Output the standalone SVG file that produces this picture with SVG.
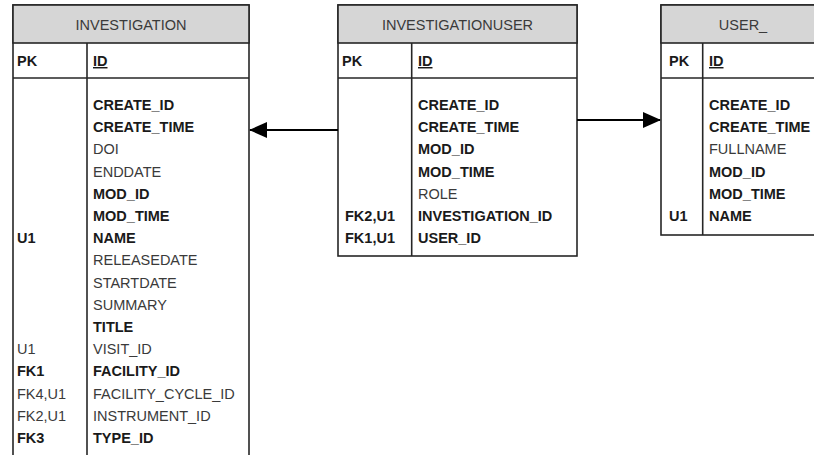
<svg xmlns="http://www.w3.org/2000/svg" width="814" height="455" viewBox="0 0 814 455">
<defs>
<marker id="arrow" viewBox="0 0 18 16" refX="17" refY="8" markerWidth="18" markerHeight="16" markerUnits="userSpaceOnUse" orient="auto">
<path d="M0,0 L18,8 L0,16 Z" fill="#000"/>
</marker>
<style>
.box{fill:#fff;stroke:#262626;stroke-width:1.6}
.hdr{fill:#d6d6d6;stroke:#262626;stroke-width:1.6}
.ln{stroke:#262626;stroke-width:1.6;fill:none}
text{font-family:"Liberation Sans",Arial,sans-serif;font-size:14.5px}
.r{fill:#3a3a3a}
.b{fill:#1a1a1a;font-weight:bold}
.h{fill:#3a3a3a;text-anchor:middle}
.u{text-decoration:underline}
.conn{stroke:#000;stroke-width:2;fill:none}
</style>
</defs>
<rect width="814" height="455" fill="#fff"/>

<g id="investigation">
<rect class="box" x="13" y="5" width="236" height="470"/>
<rect class="hdr" x="13" y="5" width="236" height="38"/>
<line class="ln" x1="13" y1="78" x2="249" y2="78"/>
<line class="ln" x1="87" y1="43" x2="87" y2="470"/>
<text class="h" x="131" y="29.5">INVESTIGATION</text>
<text class="b" x="17" y="66">PK</text>
<text class="b u" x="93" y="66">ID</text>
<text class="b" x="93" y="110">CREATE_ID</text>
<text class="b" x="93" y="132.2">CREATE_TIME</text>
<text class="r" x="93" y="154.4">DOI</text>
<text class="r" x="93" y="176.6">ENDDATE</text>
<text class="b" x="93" y="198.8">MOD_ID</text>
<text class="b" x="93" y="221">MOD_TIME</text>
<text class="b" x="93" y="243.2">NAME</text>
<text class="r" x="93" y="265.4">RELEASEDATE</text>
<text class="r" x="93" y="287.6">STARTDATE</text>
<text class="r" x="93" y="309.8">SUMMARY</text>
<text class="b" x="93" y="332">TITLE</text>
<text class="r" x="93" y="354.2">VISIT_ID</text>
<text class="b" x="93" y="376.4">FACILITY_ID</text>
<text class="r" x="93" y="398.6">FACILITY_CYCLE_ID</text>
<text class="r" x="93" y="420.8">INSTRUMENT_ID</text>
<text class="b" x="93" y="443">TYPE_ID</text>
<text class="b" x="17" y="243.2">U1</text>
<text class="r" x="17" y="354.2">U1</text>
<text class="b" x="17" y="376.4">FK1</text>
<text class="r" x="17" y="398.6">FK4,U1</text>
<text class="r" x="17" y="420.8">FK2,U1</text>
<text class="b" x="17" y="443">FK3</text>
</g>

<g id="investigationuser">
<rect class="box" x="338" y="5" width="239" height="251"/>
<rect class="hdr" x="338" y="5" width="239" height="38"/>
<line class="ln" x1="338" y1="78" x2="577" y2="78"/>
<line class="ln" x1="411.7" y1="43" x2="411.7" y2="256"/>
<text class="h" x="457.5" y="29.5">INVESTIGATIONUSER</text>
<text class="b" x="342" y="66">PK</text>
<text class="b u" x="418" y="66">ID</text>
<text class="b" x="418" y="110">CREATE_ID</text>
<text class="b" x="418" y="132.2">CREATE_TIME</text>
<text class="b" x="418" y="154.4">MOD_ID</text>
<text class="b" x="418" y="176.6">MOD_TIME</text>
<text class="r" x="418" y="198.8">ROLE</text>
<text class="b" x="418" y="221">INVESTIGATION_ID</text>
<text class="b" x="418" y="243.2">USER_ID</text>
<text class="b" x="345" y="221">FK2,U1</text>
<text class="b" x="345" y="243.2">FK1,U1</text>
</g>

<g id="user_">
<rect class="box" x="661" y="5" width="170" height="230"/>
<rect class="hdr" x="661" y="5" width="170" height="38"/>
<line class="ln" x1="661" y1="78" x2="831" y2="78"/>
<line class="ln" x1="702.7" y1="43" x2="702.7" y2="235"/>
<text class="h" x="743" y="29.5">USER_</text>
<text class="b" x="669" y="66">PK</text>
<text class="b u" x="709" y="66">ID</text>
<text class="b" x="709" y="110">CREATE_ID</text>
<text class="b" x="709" y="132.2">CREATE_TIME</text>
<text class="r" x="709" y="154.4">FULLNAME</text>
<text class="b" x="709" y="176.6">MOD_ID</text>
<text class="b" x="709" y="198.8">MOD_TIME</text>
<text class="b" x="709" y="221">NAME</text>
<text class="b" x="669" y="221">U1</text>
</g>

<g id="connectors">
<line class="conn" x1="338" y1="130" x2="250" y2="130" marker-end="url(#arrow)"/>
<line class="conn" x1="577" y1="120" x2="660" y2="120" marker-end="url(#arrow)"/>
</g>
</svg>
